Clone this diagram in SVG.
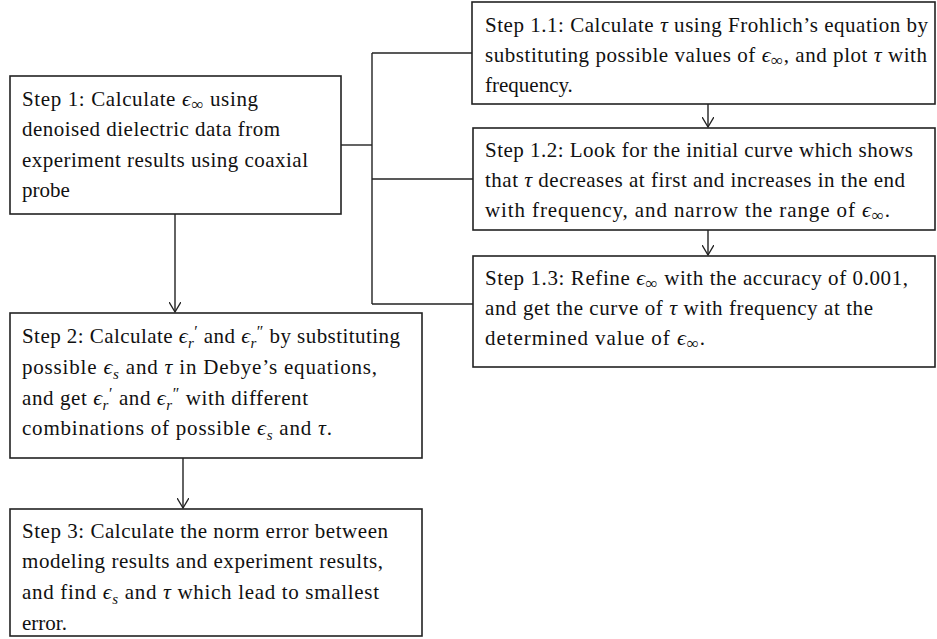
<svg xmlns="http://www.w3.org/2000/svg" width="937" height="639" viewBox="0 0 937 639">
<style>
.bg{fill:#fff}
.box{fill:#fff;stroke:#222;stroke-width:1.6}
.ln{fill:none;stroke:#222;stroke-width:1.4}
.t{font-family:"Liberation Serif","Times New Roman",serif;font-size:21px;fill:#111}
.m{font-style:italic;font-family:"Liberation Serif","DejaVu Serif",serif;font-size:22px}
.sb{font-size:17px}
.si{font-size:15px;font-style:italic}
.pr{font-size:16px}
</style>
<defs>
<marker id="arr" viewBox="0 0 12 12" refX="10" refY="6" markerWidth="12" markerHeight="12" markerUnits="userSpaceOnUse" orient="auto">
<path d="M0,0 L10,6 L0,12" fill="none" stroke="#222" stroke-width="1.4"/>
</marker>
</defs>
<rect class="bg" x="0" y="0" width="937" height="639"/>
<g id="connectors">
<path class="ln" d="M341,145 H372"/>
<path class="ln" d="M372,53 V304"/>
<path class="ln" d="M372,53 H472"/>
<path class="ln" d="M372,179 H473"/>
<path class="ln" d="M372,304 H473"/>
<path class="ln" d="M708,104 V127" marker-end="url(#arr)"/>
<path class="ln" d="M708,230 V255" marker-end="url(#arr)"/>
<path class="ln" d="M175,214 V312" marker-end="url(#arr)"/>
<path class="ln" d="M183,458 V508" marker-end="url(#arr)"/>
</g>
<g id="step1">
<rect class="box" x="10" y="76" width="331" height="138"/>
<text class="t" x="22" y="106" textLength="236" lengthAdjust="spacing">Step 1: Calculate <tspan class="m">ϵ</tspan><tspan class="sb" dy="4">∞</tspan><tspan dy="-4"> using</tspan></text>
<text class="t" x="22" y="136" textLength="258" lengthAdjust="spacing">denoised dielectric data from</text>
<text class="t" x="22" y="167" textLength="286" lengthAdjust="spacing">experiment results using coaxial</text>
<text class="t" x="22" y="197">probe</text>
</g>
<g id="step1_1">
<rect class="box" x="472" y="2" width="463" height="102"/>
<text class="t" x="485" y="32" textLength="443" lengthAdjust="spacing">Step 1.1: Calculate <tspan class="m">τ</tspan> using Frohlich’s equation by</text>
<text class="t" x="485" y="62" textLength="442" lengthAdjust="spacing">substituting possible values of <tspan class="m">ϵ</tspan><tspan class="sb" dy="4">∞</tspan><tspan dy="-4">, and plot </tspan><tspan class="m">τ</tspan> with</text>
<text class="t" x="485" y="92">frequency.</text>
</g>
<g id="step1_2">
<rect class="box" x="473" y="128" width="462" height="102"/>
<text class="t" x="485" y="157" textLength="428" lengthAdjust="spacing">Step 1.2: Look for the initial curve which shows</text>
<text class="t" x="485" y="187" textLength="420" lengthAdjust="spacing">that <tspan class="m">τ</tspan> decreases at first and increases in the end</text>
<text class="t" x="485" y="217" textLength="405" lengthAdjust="spacing">with frequency, and narrow the range of <tspan class="m">ϵ</tspan><tspan class="sb" dy="4">∞</tspan><tspan dy="-4">.</tspan></text>
</g>
<g id="step1_3">
<rect class="box" x="473" y="256" width="462" height="111"/>
<text class="t" x="485" y="285" textLength="423" lengthAdjust="spacing">Step 1.3: Refine <tspan class="m">ϵ</tspan><tspan class="sb" dy="4">∞</tspan><tspan dy="-4"> with the accuracy of 0.001,</tspan></text>
<text class="t" x="485" y="315" textLength="388" lengthAdjust="spacing">and get the curve of <tspan class="m">τ</tspan> with frequency at the</text>
<text class="t" x="485" y="345" textLength="220" lengthAdjust="spacing">determined value of <tspan class="m">ϵ</tspan><tspan class="sb" dy="4">∞</tspan><tspan dy="-4">.</tspan></text>
</g>
<g id="step2">
<rect class="box" x="10" y="313" width="412" height="145"/>
<text class="t" x="22" y="343" textLength="378" lengthAdjust="spacing">Step 2: Calculate <tspan class="m">ϵ</tspan><tspan class="si" dy="5">r</tspan><tspan class="pr" dy="-11">′</tspan><tspan dy="6"> and </tspan><tspan class="m">ϵ</tspan><tspan class="si" dy="5">r</tspan><tspan class="pr" dy="-11">″</tspan><tspan dy="6"> by substituting</tspan></text>
<text class="t" x="22" y="374" textLength="355" lengthAdjust="spacing">possible <tspan class="m">ϵ</tspan><tspan class="si" dy="5">s</tspan><tspan dy="-5"> and </tspan><tspan class="m">τ</tspan> in Debye’s equations,</text>
<text class="t" x="22" y="405" textLength="286" lengthAdjust="spacing">and get <tspan class="m">ϵ</tspan><tspan class="si" dy="5">r</tspan><tspan class="pr" dy="-11">′</tspan><tspan dy="6"> and </tspan><tspan class="m">ϵ</tspan><tspan class="si" dy="5">r</tspan><tspan class="pr" dy="-11">″</tspan><tspan dy="6"> with different</tspan></text>
<text class="t" x="22" y="435" textLength="310" lengthAdjust="spacing">combinations of possible <tspan class="m">ϵ</tspan><tspan class="si" dy="5">s</tspan><tspan dy="-5"> and </tspan><tspan class="m">τ</tspan>.</text>
</g>
<g id="step3">
<rect class="box" x="10" y="509" width="412" height="127"/>
<text class="t" x="22" y="538" textLength="366" lengthAdjust="spacing">Step 3: Calculate the norm error between</text>
<text class="t" x="22" y="568" textLength="361" lengthAdjust="spacing">modeling results and experiment results,</text>
<text class="t" x="22" y="599" textLength="357" lengthAdjust="spacing">and find <tspan class="m">ϵ</tspan><tspan class="si" dy="5">s</tspan><tspan dy="-5"> and </tspan><tspan class="m">τ</tspan> which lead to smallest</text>
<text class="t" x="22" y="630">error.</text>
</g>
</svg>
